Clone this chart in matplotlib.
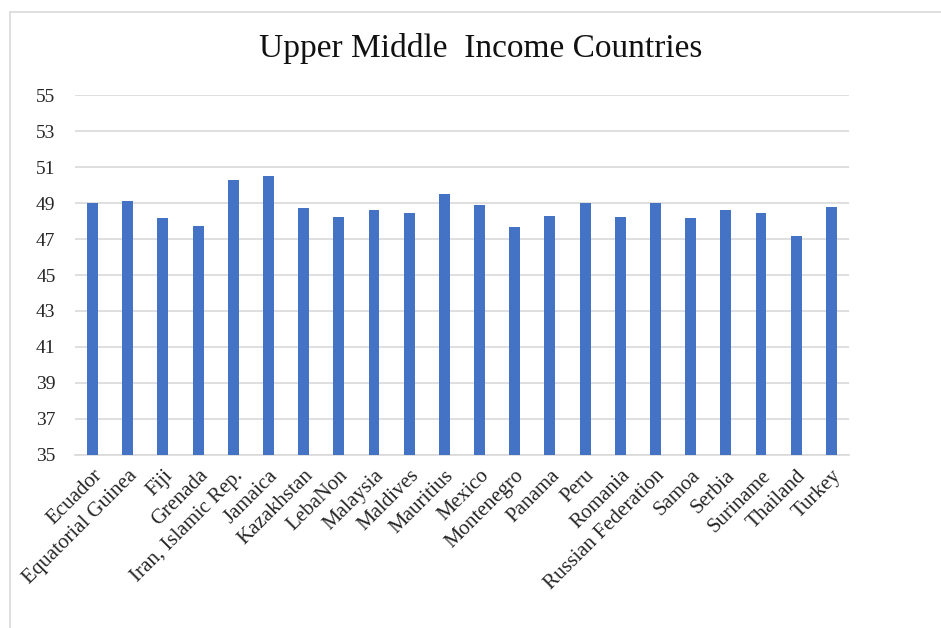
import matplotlib.pyplot as plt
import matplotlib.patches as patches
import numpy as np

countries = ["Ecuador", "Equatorial Guinea", "Fiji", "Grenada", "Iran, Islamic Rep.",
             "Jamaica", "Kazakhstan", "LebaNon", "Malaysia", "Maldives", "Mauritius",
             "Mexico", "Montenegro", "Panama", "Peru", "Romania", "Russian Federation",
             "Samoa", "Serbia", "Suriname", "Thailand", "Turkey"]
values = [49.0, 49.1, 48.15, 47.75, 50.3, 50.5, 48.7, 48.2, 48.6, 48.45, 49.5,
          48.9, 47.65, 48.3, 49.0, 48.2, 49.0, 48.15, 48.6, 48.45, 47.15, 48.8]
yticks = np.arange(35, 56, 2)

plt.rcParams['font.family'] = ['Liberation Serif', 'DejaVu Serif']

fig = plt.figure(figsize=(9.41, 6.28), dpi=100)
ax = fig.add_axes([0.0797, 0.2755, 0.8225, 0.5732])

# outer chart frame (cropped on right and bottom)
fig.patches.append(patches.Rectangle((10/941, -0.1), 1.0, 1 - 12/628 + 0.1,
                                     transform=fig.transFigure, fill=False,
                                     edgecolor='#d9d9d9', linewidth=1.2))

x = np.arange(len(countries))
ax.bar(x, [v - 35 for v in values], 0.31, bottom=35, color='#4472C4', zorder=3)

ax.set_ylim(35, 55)
ax.set_xlim(-0.5, len(countries) - 0.5)
ax.set_yticks(yticks)
ax.set_yticklabels([str(t) for t in yticks], fontsize=14, color='#262626')
ax.yaxis.grid(True, color='#d9d9d9', linewidth=1.2, zorder=0)
ax.tick_params(axis='both', length=0)
ax.tick_params(axis='y', pad=14)

ax.set_xticks(x)
ax.set_xticklabels(countries, rotation=45, ha='right', va='top',
                   rotation_mode='anchor', fontsize=15, color='#262626')
ax.tick_params(axis='x', pad=8)

for s in ['top', 'right', 'left']:
    ax.spines[s].set_visible(False)
ax.spines['bottom'].set_color('#d9d9d9')
ax.spines['bottom'].set_linewidth(1.2)

fig.text(0.511, 0.923, "Upper Middle  Income Countries", ha='center', va='center',
         fontsize=24, color='#111111')

plt.savefig("out.png", dpi=100)
